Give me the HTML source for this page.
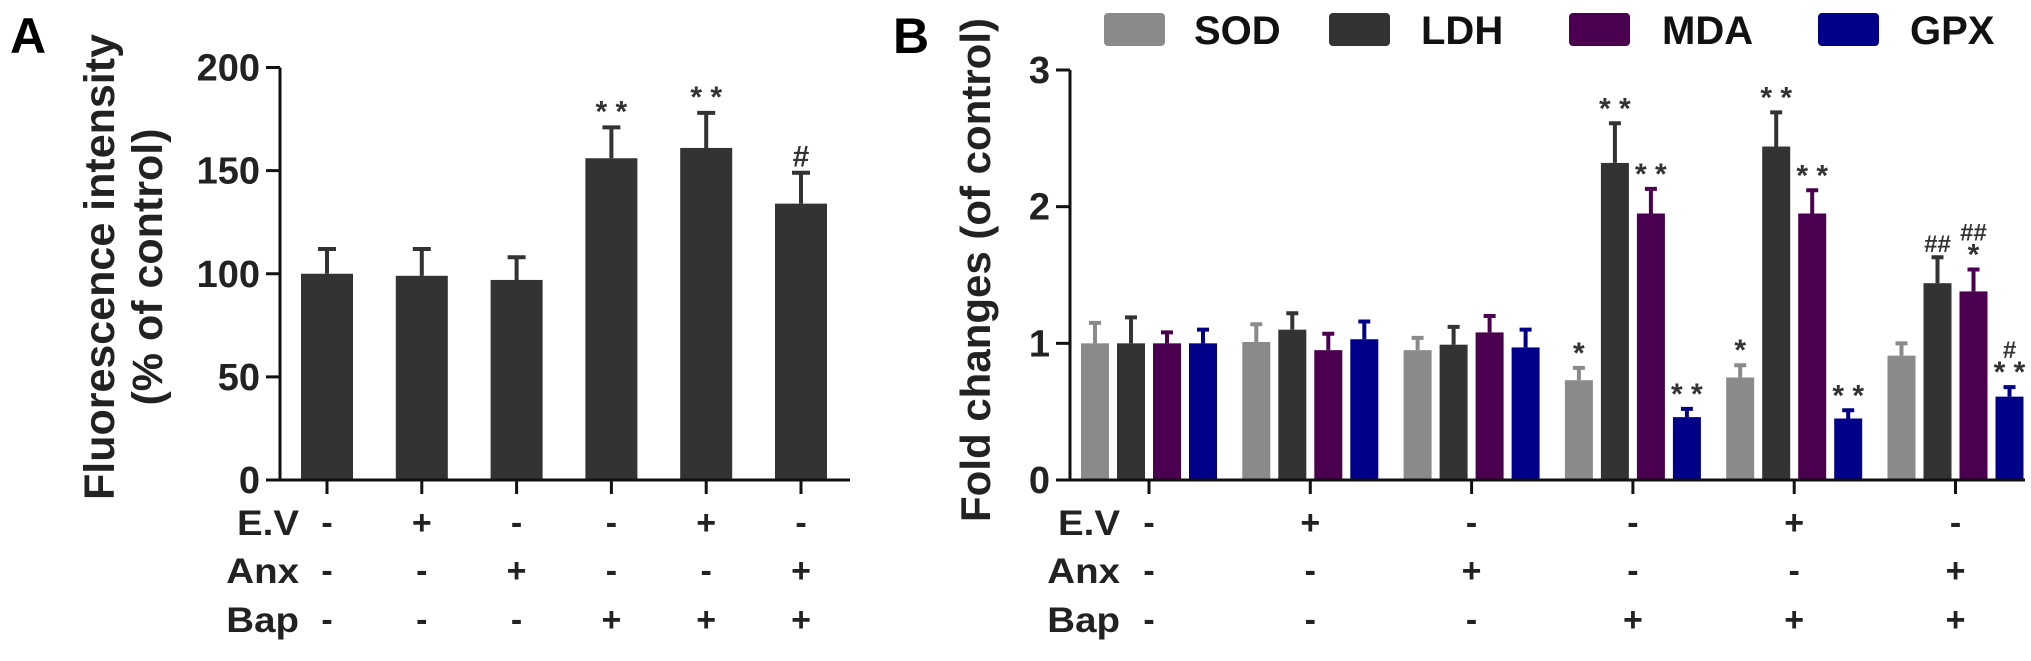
<!DOCTYPE html>
<html><head><meta charset="utf-8"><style>
body{margin:0;background:#fff;}
svg{display:block;font-family:"Liberation Sans",Arial,sans-serif;}
</style></head><body>
<svg id="chart" width="2031" height="661" viewBox="0 0 2031 661" xmlns="http://www.w3.org/2000/svg">
<rect width="2031" height="661" fill="#fff"/>
</svg>
<script>
// Panel A data
const aValues=[100,99,97,156,161,134];
const aErrors=[12,13,11,15,17,15];
const aTicks=[0,50,100,150,200];
const aAnnot=["","","","**","**","#"];
// Panel B data
const bSeries=["SOD","LDH","MDA","GPX"];
const bSOD=[1.00,1.01,0.95,0.73,0.75,0.91];
const bLDH=[1.00,1.10,0.99,2.32,2.44,1.44];
const bMDA=[1.00,0.95,1.08,1.95,1.95,1.38];
const bGPX=[1.00,1.03,0.97,0.46,0.45,0.61];
const bSODerr=[0.15,0.13,0.09,0.09,0.09,0.09];
const bLDHerr=[0.19,0.12,0.13,0.29,0.25,0.19];
const bMDAerr=[0.08,0.12,0.12,0.18,0.17,0.16];
const bGPXerr=[0.10,0.13,0.13,0.06,0.06,0.07];
const bSODann=["","","","*","*",""];
const bLDHann=["","","","**","**","##"];
const bMDAann=["","","","**","**","##\n*"];
const bGPXann=["","","","**","**","#\n**"];
const bTicks=[0,1,2,3];
const rowNames=["E.V","Anx","Bap"];
const rowEV=["-","+","-","-","+","-"];
const rowAnx=["-","-","+","-","-","+"];
const rowBap=["-","-","-","+","+","+"];

const NS="http://www.w3.org/2000/svg";
const svg=document.getElementById('chart');
function el(tag,attrs,parent){const e=document.createElementNS(NS,tag);for(const k in attrs)e.setAttribute(k,attrs[k]);(parent||svg).appendChild(e);return e;}
function txt(s,attrs,parent){const e=el('text',attrs,parent);e.textContent=s;return e;}

// ---- Panel A ----
const aY0=480,aY1=67.5,aX0=280,aXend=850;
const ay=v=>aY0-(v/200)*(aY0-aY1);
const ax=i=>327+i*94.8;
const gA=el('g',{});


let t=txt('A',{x:10,y:53,'font-size':50,'font-weight':'bold'},gA);

aValues.forEach((v,i)=>{
  const b=el('rect',{x:ax(i)-26,y:ay(v),width:52,height:aY0-ay(v),fill:'#333'},gA);
  
  
  const top=ay(v+aErrors[i]);
  const eb=el('path',{d:`M${ax(i)} ${ay(v)}V${top}M${ax(i)-9} ${top}H${ax(i)+9}`,stroke:'#333','stroke-width':4,fill:'none'},gA);
  
  
  if(aAnnot[i]){const a=txt(aAnnot[i].replace('**','* *'),{x:ax(i),y:top-6,'font-size':30,'font-weight':'bold','text-anchor':'middle',fill:'#333'},gA);
    }
  el('line',{x1:ax(i),x2:ax(i),y1:aY0,y2:aY0+14,stroke:'#111','stroke-width':3},gA);
});
el('path',{d:`M${aX0-14} ${aY0}H${aXend}M${aX0} ${aY0}V${aY1}`,stroke:'#111','stroke-width':3,fill:'none'},gA);
aTicks.forEach(v=>{
  el('line',{x1:aX0-14,x2:aX0,y1:ay(v),y2:ay(v),stroke:'#111','stroke-width':3},gA);
  const l=txt(String(v),{x:aX0-20,y:ay(v)+13,'font-size':38,'font-weight':'bold','text-anchor':'end',fill:'#222'},gA);
  
});
t=txt('Fluorescence intensity',{x:0,y:0,'font-size':43,'font-weight':'bold','text-anchor':'middle',transform:`translate(114,267) rotate(-90)`,fill:'#222'},gA);

t=txt('(% of control)',{x:0,y:0,'font-size':43,'font-weight':'bold','text-anchor':'middle',transform:`translate(162,267) rotate(-90)`,fill:'#222'},gA);


const rows=[rowEV,rowAnx,rowBap], rowY=[535,583,632];
function drawRows(g,lx,xf){
  rows.forEach((r,ri)=>{
    const l=txt(rowNames[ri],{x:0,y:0,'font-size':35,'font-weight':'bold','text-anchor':'end',fill:'#222',transform:`translate(${lx},${rowY[ri]}) scale(1.1,1)`},g);
    
    r.forEach((s,i)=>{const c=txt(s,{x:xf(i),y:rowY[ri]-1,'font-size':34,'font-weight':'bold','text-anchor':'middle',fill:'#222'},g);
      });
  });
}
drawRows(gA,299,ax);

// ---- Panel B ----
const bY0=480,bY3=70,bX0=1070,bXend=2025;
const by=v=>bY0-(v/3)*(bY0-bY3);
const gx=i=>1149+i*161.3;
const colors=['#8a8a8a','#333333','#4b004f','#000088'];
const vals=[bSOD,bLDH,bMDA,bGPX],errs=[bSODerr,bLDHerr,bMDAerr,bGPXerr],anns=[bSODann,bLDHann,bMDAann,bGPXann];
const gB=el('g',{});


t=txt('B',{x:893,y:53,'font-size':50,'font-weight':'bold'},gB);

vals.forEach((arr,s)=>{
  arr.forEach((v,i)=>{
    const cx=gx(i)+(s-1.5)*36;
    const b=el('rect',{x:cx-14,y:by(v),width:28,height:bY0-by(v),fill:colors[s]},gB);
    
    
    const top=by(v+errs[s][i]);
    const eb=el('path',{d:`M${cx} ${by(v)}V${top}M${cx-6} ${top}H${cx+6}`,stroke:colors[s],'stroke-width':4,fill:'none'},gB);
    
    
    const an=anns[s][i];
    if(an){const lines=an.split('\n');lines.reverse().forEach((ln,k)=>{
      const a=txt(ln.replace('**','* *'),{x:cx,y:top-5-k*24,'font-size':ln.includes('#')?24:30,'font-weight':'bold','text-anchor':'middle',fill:'#333'},gB);
      });}
  });
});
for(let i=0;i<6;i++) el('line',{x1:gx(i),x2:gx(i),y1:bY0,y2:bY0+14,stroke:'#111','stroke-width':3},gB);
el('path',{d:`M${bX0-14} ${bY0}H${bXend}M${bX0} ${bY0}V${bY3}`,stroke:'#111','stroke-width':3,fill:'none'},gB);
bTicks.forEach(v=>{
  el('line',{x1:bX0-14,x2:bX0,y1:by(v),y2:by(v),stroke:'#111','stroke-width':3},gB);
  const l=txt(String(v),{x:bX0-20,y:by(v)+13,'font-size':38,'font-weight':'bold','text-anchor':'end',fill:'#222'},gB);
  
});
t=txt('Fold changes (of control)',{x:0,y:0,'font-size':42,'font-weight':'bold','text-anchor':'middle',transform:`translate(990,270) rotate(-90)`,fill:'#222'},gB);

drawRows(gB,1120,gx);
// legend
const legBox=[1104,1329,1569,1818],legTxt=[1194,1421,1662,1910];
bSeries.forEach((n,s)=>{
  const r=el('rect',{x:legBox[s],y:13,width:61,height:33,rx:4,fill:colors[s]},gB);
  
  
  const l=txt(n,{x:legTxt[s],y:44,'font-size':40,'font-weight':'bold',fill:'#111'},gB);
  
  
});
</script>
</body></html>
